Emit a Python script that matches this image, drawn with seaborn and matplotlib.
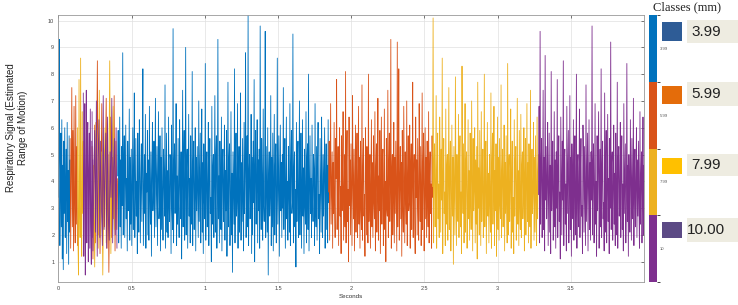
import numpy as np
import pandas as pd
import matplotlib
matplotlib.use("Agg")
import matplotlib.pyplot as plt
import matplotlib as mpl
from matplotlib.patches import Rectangle
import seaborn as sns

sns.set_style("white")
plt.rcParams['font.family'] = ['Liberation Sans', 'DejaVu Sans']

# ---- data -------------------------------------------------------------
class_labels = ["3.99", "5.99", "7.99", "10.00"]
cbar_labels = ["3.99", "5.99", "7.99", "10"]
line_colors = ["#0072BD", "#D95319", "#EDB120", "#7E2F8E"]
legend_colors = ["#2E5C96", "#E46C0A", "#FFC000", "#5C4A85"]

# segments: class index, start (s), end (s)
seg_class = [0, 1, 2, 3, 1, 3, 2, 0, 1, 2, 3]
seg_start = [0.0, 0.08, 0.13, 0.17, 0.23, 0.23, 0.24, 0.405, 1.846, 2.556, 3.28]
seg_end = [0.08, 0.13, 0.17, 0.235, 0.405, 0.40, 0.39, 1.846, 2.556, 3.28, 4.0]

blue_a = [3.4, 5.1, 9.3, 1.6, 4.2, 5.8, 2.3, 6.3, 1.1, 4.6, 0.7, 5.5, 2.8, 6.0, 1.9,
          3.7, 5.2, 1.3, 6.2, 2.5, 4.4, 0.9, 5.7, 2.1, 4.8]
orange_a = [5.6, 1.5, 4.0, 7.5, 2.3, 5.9, 1.4, 6.8, 3.1, 1.7, 7.2, 2.4, 5.3, 1.6]
yellow_a = [6.0, 1.8, 0.5, 7.8, 3.2, 1.9, 8.6, 2.4, 1.2, 6.6, 2.8, 5.5]
purple_a = [7.3, 1.2, 4.6, 6.9, 0.5, 3.8, 7.4, 1.7, 5.2, 6.2, 1.0, 4.4, 5.8, 1.5, 6.7,
            2.3, 0.9, 5.5, 1.9, 4.8]
orange_b = [5.3, 1.1, 3.9, 6.1, 1.7, 4.5, 8.5, 2.0, 5.6, 1.3, 3.7, 6.9, 1.8, 5.2, 2.3,
            4.6, 7.1, 1.5, 5.0, 0.6, 3.8, 6.4, 1.9, 4.9, 2.6, 7.2, 1.4, 5.5, 2.2, 4.1]
purple_b = [6.6, 1.4, 4.2, 5.9, 2.1, 7.0, 1.2, 4.8, 6.3, 1.9, 5.5, 3.0, 1.6, 7.2, 2.2,
            4.6, 5.8, 1.5, 6.4, 2.7, 1.8, 5.1, 3.4, 7.1, 1.7, 4.4, 5.6, 2.0, 6.0, 1.5]
yellow_b = [4.6, 0.8, 6.2, 3.1, 1.5, 7.4, 2.0, 5.1, 0.5, 4.3, 6.0, 1.7, 5.4, 2.6, 8.5,
            1.3, 4.7, 6.8, 2.2, 5.0]

blue_main = [
    4.2, 5.9, 1.7, 3.6, 6.4, 2.3, 4.8, 1.5, 5.3, 3.1, 8.8, 2.0, 4.5, 5.7, 1.9,
    3.8, 6.1, 2.6, 4.1, 1.4, 5.5, 2.9, 3.3, 6.7, 1.8, 4.9, 2.4, 5.2, 1.6, 3.7,
    6.0, 2.2, 4.4, 7.3, 1.9, 3.5, 5.6, 2.7, 4.0, 1.3, 5.8, 3.0, 2.1, 6.3, 4.6,
    1.7, 3.9, 5.4, 2.5, 4.7, 8.2, 1.6, 3.2, 5.0, 2.8, 6.5, 1.5, 4.3, 3.6, 5.9,
    2.0, 4.8, 1.8, 6.8, 3.4, 2.4, 5.1, 1.2, 4.2, 6.2, 2.9, 3.7, 5.5, 1.9, 4.5,
    7.1, 2.3, 3.8, 5.3, 1.6, 4.0, 6.6, 2.6, 3.1, 5.7, 1.4, 4.9, 2.2, 6.0, 3.5,
    1.8, 5.2, 4.1, 2.7, 7.6, 1.5, 3.6, 5.8, 2.1, 4.4, 1.9, 6.4, 3.3, 2.5, 5.0,
    4.7, 1.3, 6.1, 3.0, 2.2, 9.7, 1.7, 4.6, 5.4, 2.8, 3.9, 6.9, 1.6, 4.2, 2.4,
    5.6, 3.2, 1.9, 6.3, 4.0, 2.6, 5.1, 1.1, 3.7, 7.4, 2.3, 4.8, 5.9, 1.8, 3.4,
    9.0, 2.0, 4.5, 5.2, 1.5, 3.8, 6.5, 2.7, 4.1, 1.7, 5.7, 3.1, 2.4, 8.1, 1.6,
    4.6, 5.5, 2.2, 3.5, 6.0, 1.4, 4.9, 2.9, 5.3, 3.6, 1.9, 7.0, 2.5, 4.3, 5.8,
    1.7, 3.9, 6.7, 2.1, 4.7, 1.3, 5.4, 3.3, 2.6, 8.4, 1.8, 4.4, 5.1, 2.3, 3.7,
    6.2, 1.6, 4.0, 5.6, 2.8, 3.4, 1.0, 6.8, 2.4, 4.5, 5.0, 1.9, 3.8, 7.2, 2.1,
    4.9, 5.7, 1.5, 3.2, 9.3, 2.6, 4.2, 1.7, 5.5, 3.6, 2.2, 6.4, 1.4, 4.7, 5.2,
    2.5, 3.9, 6.1, 1.8, 4.4, 2.9, 5.9, 1.2, 3.5, 7.7, 2.3, 4.8, 5.4, 1.6, 3.1,
    6.6, 2.0, 4.3, 0.6, 5.1, 3.7, 2.4, 8.2, 1.7, 4.6, 5.8, 2.7, 3.3, 6.9, 1.5,
    4.1, 5.3, 2.1, 3.8, 7.3, 1.8, 4.7, 2.5, 5.6, 3.0, 1.4, 6.2, 2.8, 4.5, 8.8,
    1.9, 3.6, 5.7, 2.3, 10.2, 1.6, 4.2, 5.0, 2.6, 3.4, 6.5, 1.3, 4.9, 2.0, 5.5,
    3.2, 7.8, 1.0, 4.4, 5.9, 2.4, 3.7, 6.3, 1.7, 4.8, 2.9, 5.2, 1.5, 9.8, 3.5,
    2.2, 5.6, 4.0, 1.8, 6.7, 3.1, 2.5, 4.6, 9.6, 1.9, 5.3, 3.8, 2.1, 6.0, 0.5,
    4.3, 5.1, 2.7, 3.4, 7.2, 1.6, 4.9, 2.3, 5.8, 1.4, 3.9, 6.5, 2.0, 4.5, 5.4,
    1.7, 3.3, 8.6, 2.4, 4.1, 5.7, 1.2, 3.6, 6.1, 2.9, 4.7, 1.9, 5.0, 3.0, 7.5,
    2.2, 4.4, 5.6, 1.5, 3.8, 6.4, 2.6, 4.0, 1.8, 5.3, 3.5, 2.1, 6.9, 1.6, 4.6,
    5.9, 2.8, 3.2, 9.5, 1.7, 4.3, 5.1, 2.3, 3.7, 0.8, 6.2, 2.5, 4.8, 5.5, 1.9,
    3.4, 7.0, 2.0, 4.2, 5.8, 1.5, 3.9, 6.3, 2.7, 4.5, 1.3, 5.2, 3.1, 2.4, 6.6,
    1.7, 4.9, 5.4, 2.2, 8.0, 1.4, 3.6, 5.7, 2.8, 4.1, 1.9, 6.1, 3.3, 2.5, 5.0,
    4.4, 1.6, 6.9, 3.0, 2.3, 5.3, 1.8, 4.7, 6.2, 2.6, 3.5, 1.3, 5.6, 4.0, 2.1,
    6.4, 3.7, 1.9, 5.0, 2.7, 4.3, 6.0, 1.5, 3.8, 5.4, 2.2, 4.6, 1.7, 6.3, 3.2,
]

orange_main = [
    3.6, 5.5, 1.8, 4.3, 6.9, 2.4, 3.9, 5.1, 1.5, 4.7, 2.8, 6.2, 3.2, 1.9, 5.6,
    4.1, 7.8, 2.2, 3.5, 5.3, 1.6, 4.5, 6.0, 2.7, 3.8, 1.3, 5.7, 2.9, 4.2, 6.6,
    1.8, 3.4, 5.0, 2.3, 8.1, 1.7, 4.6, 5.9, 2.5, 3.7, 1.0, 6.4, 3.1, 4.8, 2.0,
    5.4, 3.3, 1.6, 7.2, 4.0, 2.6, 5.2, 1.4, 3.9, 6.1, 2.1, 4.4, 5.8, 1.9, 3.6,
    6.8, 2.4, 4.9, 1.5, 5.5, 3.0, 2.2, 7.6, 1.8, 4.3, 5.6, 2.7, 3.5, 1.2, 6.0,
    4.6, 2.0, 5.3, 3.7, 1.7, 8.0, 2.5, 4.1, 5.0, 1.5, 3.8, 6.3, 2.3, 4.7, 1.9,
    5.7, 3.2, 2.6, 6.6, 1.4, 4.5, 5.4, 2.1, 3.6, 7.1, 1.8, 4.2, 2.9, 5.9, 1.3,
    3.9, 6.4, 2.4, 4.8, 5.2, 1.6, 3.4, 6.7, 2.2, 4.0, 1.0, 5.6, 3.0, 2.7, 7.4,
    1.9, 4.6, 5.8, 2.5, 3.7, 9.3, 1.5, 4.3, 5.0, 2.0, 3.3, 6.2, 1.7, 4.9, 2.8,
    5.5, 3.6, 1.4, 9.2, 2.3, 4.2, 8.2, 1.8, 3.9, 5.3, 2.6, 4.7, 1.2, 5.9, 3.1,
    2.1, 6.8, 4.4, 1.7, 5.1, 3.5, 2.4, 7.0, 1.6, 4.0, 5.7, 2.9, 3.2, 6.1, 1.5,
    4.6, 5.4, 2.2, 3.8, 7.7, 1.9, 4.3, 5.0, 2.7, 1.3, 6.4, 3.4, 4.8, 2.0, 5.6,
    3.0, 1.8, 6.9, 4.1, 2.5, 5.3, 1.6, 3.7, 7.3, 2.2, 4.5, 5.8, 1.4, 3.3, 6.0,
    2.6, 4.9, 1.9, 5.5, 3.6, 2.3, 6.6, 1.7, 4.2, 5.1, 2.8, 3.9, 1.5, 5.7, 3.4,
]

yellow_main = [
    3.8, 10.1, 1.7, 4.6, 5.4, 2.3, 3.5, 7.2, 1.5, 4.2, 5.8, 2.6, 3.9, 1.9, 6.4,
    4.8, 2.1, 5.2, 3.3, 8.6, 1.3, 4.0, 5.6, 2.8, 3.6, 1.6, 6.7, 2.4, 4.5, 5.0,
    1.8, 3.7, 7.5, 2.2, 4.3, 5.5, 1.4, 3.1, 6.1, 2.7, 4.9, 0.9, 5.3, 3.8, 2.0,
    7.9, 4.1, 1.6, 5.0, 3.4, 2.5, 6.5, 1.9, 4.6, 5.7, 2.3, 3.6, 1.3, 8.3, 4.0,
    2.8, 5.4, 1.7, 3.9, 6.9, 2.1, 4.7, 5.1, 1.5, 3.2, 6.3, 2.6, 4.4, 1.8, 5.8,
    3.5, 2.2, 7.0, 4.2, 1.4, 5.6, 2.9, 3.7, 6.0, 1.7, 4.8, 2.4, 5.3, 1.1, 7.7,
    3.0, 4.5, 2.0, 5.9, 3.6, 1.6, 6.6, 2.5, 4.1, 5.2, 1.9, 3.4, 8.0, 2.3, 4.7,
    5.5, 1.3, 3.8, 6.2, 2.7, 4.3, 1.7, 5.0, 3.2, 2.1, 7.3, 1.5, 4.6, 5.8, 2.4,
    3.9, 6.8, 1.6, 4.4, 2.9, 5.4, 1.2, 3.5, 6.4, 2.2, 4.9, 1.8, 5.6, 3.1, 2.6,
    7.6, 1.9, 4.2, 5.2, 2.3, 3.6, 6.1, 1.4, 4.7, 2.8, 5.7, 3.3, 1.7, 8.4, 2.0,
    4.5, 5.0, 2.5, 3.8, 6.7, 1.5, 4.1, 5.5, 2.1, 3.4, 1.3, 6.3, 2.7, 4.8, 5.3,
    1.8, 3.7, 7.1, 2.4, 4.4, 1.6, 5.9, 3.0, 2.2, 6.5, 1.9, 4.6, 5.1, 2.6, 3.5,
    6.0, 1.4, 4.3, 5.6, 2.0, 3.9, 6.9, 2.5, 4.7, 1.7, 5.4, 3.2, 2.3, 7.4, 1.5,
    4.0, 5.2, 2.8, 3.6, 6.2, 1.8, 4.9, 2.1, 5.7, 3.3, 1.6, 6.4, 2.6, 4.2, 5.0,
]

purple_main = [
    3.5, 6.8, 1.7, 9.6, 2.4, 4.5, 5.6, 1.9, 3.8, 7.4, 2.2, 4.9, 1.4, 8.7, 3.3,
    5.3, 2.6, 4.1, 6.2, 1.6, 3.7, 5.8, 2.1, 4.6, 1.3, 8.1, 2.9, 4.0, 5.5, 1.8,
    3.4, 6.6, 2.3, 4.8, 1.5, 5.1, 3.0, 7.8, 1.9, 4.3, 5.7, 2.5, 3.6, 1.1, 6.4,
    4.2, 2.0, 5.5, 3.3, 8.5, 1.6, 4.7, 5.2, 2.4, 3.9, 1.4, 6.8, 2.8, 4.4, 5.9,
    1.7, 3.5, 7.2, 2.2, 4.9, 1.2, 5.4, 3.8, 2.6, 6.3, 1.8, 4.1, 5.7, 2.0, 3.4,
    8.0, 1.5, 4.6, 5.0, 2.3, 3.7, 6.7, 1.9, 4.3, 5.6, 2.7, 3.1, 1.3, 6.1, 4.8,
    2.1, 5.3, 3.6, 1.6, 7.6, 2.5, 4.2, 5.8, 1.4, 3.9, 6.3, 2.2, 4.7, 1.8, 5.1,
    3.3, 9.8, 2.0, 4.5, 5.4, 1.7, 3.6, 6.9, 2.4, 4.0, 1.2, 5.7, 2.9, 4.8, 6.6,
    1.5, 3.8, 5.2, 2.3, 8.2, 1.9, 4.4, 5.5, 2.6, 3.2, 1.4, 7.3, 2.1, 4.6, 5.9,
    1.7, 3.5, 6.5, 2.5, 4.1, 1.3, 5.6, 3.0, 9.2, 2.2, 4.7, 5.1, 1.8, 3.7, 6.1,
    2.4, 4.3, 1.6, 5.8, 3.4, 2.0, 7.7, 1.5, 4.9, 5.3, 2.7, 3.6, 6.2, 1.9, 4.5,
    5.7, 2.2, 3.9, 1.4, 6.9, 2.8, 4.2, 5.4, 1.7, 3.3, 8.4, 2.5, 4.6, 1.2, 5.0,
    3.7, 2.1, 6.3, 4.0, 1.8, 5.6, 2.6, 3.5, 7.1, 1.6, 4.4, 5.2, 2.3, 3.8, 6.0,
    1.9, 4.8, 2.7, 5.5, 3.2, 1.5, 6.6, 2.4, 4.1, 5.1, 1.7, 3.6, 6.4, 2.0, 4.6,
]

seg_values = [blue_a, orange_a, yellow_a, purple_a, orange_b, purple_b, yellow_b,
              blue_main, orange_main, yellow_main, purple_main]

x_ticks = [0, 0.5, 1, 1.5, 2, 2.5, 3, 3.5]
y_ticks = list(range(1, 11))

# ---- build frame ------------------------------------------------------
rows = []
for i, (c, s, e, vals) in enumerate(zip(seg_class, seg_start, seg_end, seg_values)):
    t = np.linspace(s, e, len(vals))
    for tt, vv in zip(t, vals):
        rows.append((tt, vv, class_labels[c], i))
df = pd.DataFrame(rows, columns=["t", "v", "cls", "seg"])

W, H = 738, 305
fig = plt.figure(figsize=(W / 100, H / 100), dpi=100)
fig.patch.set_facecolor("white")

ax = fig.add_axes([58.4 / W, 1 - 282 / H, (644 - 58.4) / W, (282 - 15) / H])
sns.lineplot(data=df, x="t", y="v", hue="cls", units="seg", estimator=None,
             palette=dict(zip(class_labels, line_colors)), hue_order=class_labels,
             linewidth=0.6, legend=False, sort=False, ax=ax)

ax.set_xlim(0, 4.0)
ax.set_ylim(0.24, 10.21)
ax.set_xticks(x_ticks)
ax.set_xticklabels([("%g" % v) for v in x_ticks])
ax.set_yticks(y_ticks)
ax.tick_params(axis="both", which="both", direction="in", length=2.5, width=0.5,
               labelsize=4, colors="#444444", top=True, right=True, pad=3)
ax.grid(True, color="#e0e0e0", linewidth=0.5)
ax.set_axisbelow(True)
for sp in ax.spines.values():
    sp.set_color("#999999")
    sp.set_linewidth(0.6)
ax.set_xlabel("Seconds", fontsize=4.5, color="#333333", labelpad=2)
ax.set_ylabel("")

fig.text(17 / W, 1 - 128 / H, "Respiratory Signal (Estimated\nRange of Motion)",
         rotation=90, ha="center", va="center", fontsize=7, color="#222222",
         multialignment="center", linespacing=1.15)

# ---- colorbar ---------------------------------------------------------
cax = fig.add_axes([648.7 / W, 1 - 282 / H, 8 / W, (282 - 15) / H])
cmap = mpl.colors.ListedColormap(line_colors[::-1])
norm = mpl.colors.BoundaryNorm([0, 1, 2, 3, 4], cmap.N)
cb = fig.colorbar(mpl.cm.ScalarMappable(norm=norm, cmap=cmap), cax=cax)
cb.outline.set_visible(False)
cb.set_ticks([3.5, 2.5, 1.5, 0.5])
cb.set_ticklabels(cbar_labels)
cax.tick_params(length=0, labelsize=3, colors="#555555", pad=2)

# ---- legend boxes -----------------------------------------------------
lax = fig.add_axes([0, 0, 1, 1], zorder=5)
lax.set_xlim(0, W)
lax.set_ylim(H, 0)
lax.axis("off")
lax.patch.set_alpha(0)
lax.text(687, 7, "Classes (mm)", ha="center", va="center", fontsize=9,
         family=["Liberation Serif", "DejaVu Serif"], color="#222222")
sq_top = [22, 86, 158, 222]
sq_h = [19, 18, 16, 16]
box_top = [20, 82, 154, 218]
box_h = [23, 24, 22, 24]
for i, lab in enumerate(class_labels):
    lax.add_patch(Rectangle((662, sq_top[i]), 20, sq_h[i], facecolor=legend_colors[i],
                            edgecolor="none"))
    lax.add_patch(Rectangle((687, box_top[i]), 51, box_h[i], facecolor="#EEECE1",
                            edgecolor="none"))
    lax.text(706, box_top[i] + box_h[i] / 2, lab, ha="center", va="center",
             fontsize=11, color="#222222")

fig.savefig("out.png", dpi=100)
